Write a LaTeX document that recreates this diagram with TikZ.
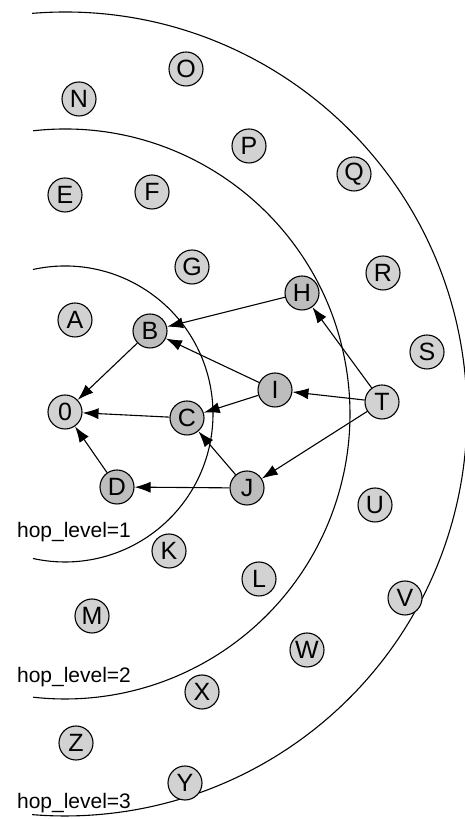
\documentclass[tikz,border=0pt]{standalone}
\usepackage{fontspec}
\setmainfont{Liberation Sans}
\usepackage{tikz}
\usetikzlibrary{arrows.meta}

\begin{document}
\begin{tikzpicture}[x=1pt,y=1pt]
  \tikzset{vertex/.style = {shape=circle,draw,line width=1.1pt,fill=gray!35,minimum size=34pt,inner sep=0pt,font=\fontsize{25}{25}\selectfont}}
  \tikzset{hot/.style = {vertex,fill=gray!52}}
  \tikzset{route/.style = {-{Latex[length=16pt,width=11pt]},line width=1.1pt}}
  \tikzset{ring/.style = {line width=1.1pt}}
  \useasboundingbox (0,0) rectangle (465,819);
  \coordinate (ctr) at (65,405);

	% hop rings
	\draw[ring] (ctr) ++(102.5:148) arc[start angle=102.5,end angle=-102.5,radius=148];
	\draw[ring] (ctr) ++(96.4:285) arc[start angle=96.4,end angle=-96.4,radius=285];
	\draw[ring] (ctr) ++(94.7:402) arc[start angle=94.7,end angle=-94.7,radius=402];

	\node[font=\fontsize{21}{21}\selectfont] (lvl1) at (74,287) {hop\_level=1};
	\node[font=\fontsize{21}{21}\selectfont] (lvl2) at (74,142) {hop\_level=2};
	\node[font=\fontsize{21}{21}\selectfont] (lvl3) at (74,16) {hop\_level=3};

	\node[vertex] (zero) at (65,407) {0};
	\node[vertex] (a) at (75,499) {A};
	\node[hot] (b) at (150,488) {B};
	\node[hot] (c) at (187,401) {C};
	\node[hot] (d) at (117,332) {D};
	\node[vertex] (e) at (65,624) {E};
	\node[vertex] (f) at (152,627) {F};
	\node[vertex] (g) at (192,552) {G};
	\node[hot] (h) at (302,526) {H};
	\node[hot] (i) at (275,429) {I};
	\node[hot] (j) at (247,331) {J};
	\node[vertex] (k) at (169,268) {K};
	\node[vertex] (l) at (259,240) {L};
	\node[vertex] (m) at (92,203) {M};
	\node[vertex] (n) at (79,720) {N};
	\node[vertex] (o) at (186,750) {O};
	\node[vertex] (p) at (249,673) {P};
	\node[vertex] (q) at (354,645) {Q};
	\node[vertex] (r) at (383,546) {R};
	\node[vertex] (s) at (427,467) {S};
	\node[vertex] (t) at (382,417) {T};
	\node[vertex] (u) at (375,314) {U};
	\node[vertex] (v) at (405,221) {V};
	\node[vertex] (w) at (307,169) {W};
	\node[vertex] (x) at (202,127) {X};
	\node[vertex] (y) at (185,36) {Y};
	\node[vertex] (z) at (76,76) {Z};

	\draw[route] (b) -- (zero);
	\draw[route] (c) -- (zero);
	\draw[route] (d) -- (zero);

	\draw[route] (h) -- (b);
	\draw[route] (i) -- (b);
	\draw[route] (i) -- (c);
	\draw[route] (j) -- (c);
	\draw[route] (j) -- (d);

	\draw[route] (t) -- (h);
	\draw[route] (t) -- (i);
	\draw[route] (t) -- (j);

\end{tikzpicture}
\end{document}
